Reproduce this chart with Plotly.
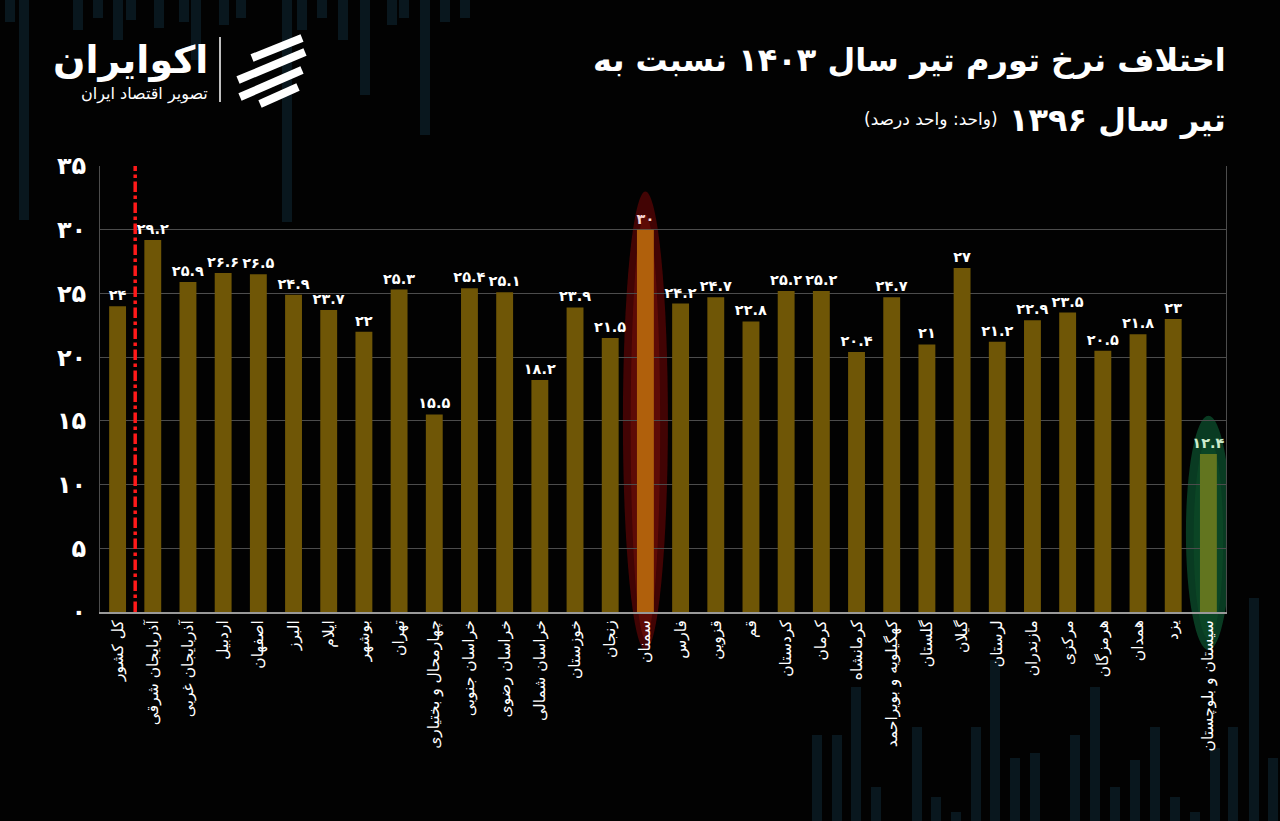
import plotly.graph_objects as go

# ---------------- data ----------------
provinces = [
    "کل کشور", "آذربایجان شرقی", "آذربایجان غربی", "اردبیل", "اصفهان", "البرز",
    "ایلام", "بوشهر", "تهران", "چهارمحال و بختیاری", "خراسان جنوبی", "خراسان رضوی",
    "خراسان شمالی", "خوزستان", "زنجان", "سمنان", "فارس", "قزوین", "قم", "کردستان",
    "کرمان", "کرمانشاه", "کهگیلویه و بویراحمد", "گلستان", "گیلان", "لرستان",
    "مازندران", "مرکزی", "هرمزگان", "همدان", "یزد", "سیستان و بلوچستان",
]
inflation_diff = [
    24, 29.2, 25.9, 26.6, 26.5, 24.9,
    23.7, 22, 25.3, 15.5, 25.4, 25.1,
    18.2, 23.9, 21.5, 30, 24.2, 24.7, 22.8, 25.2,
    25.2, 20.4, 24.7, 21, 27, 21.2,
    22.9, 23.5, 20.5, 21.8, 23, 12.4,
]
y_ticks = [0, 5, 10, 15, 20, 25, 30, 35]
max_province = "سمنان"
min_province = "سیستان و بلوچستان"
national = "کل کشور"

title_line1 = "اختلاف نرخ تورم تیر سال ۱۴۰۳ نسبت به"
title_line2 = "تیر سال ۱۳۹۶"
unit_text = "(واحد: واحد درصد)"
brand = "اکوایران"
brand_sub = "تصویر اقتصاد ایران"

# ---------------- helpers ----------------
FA = str.maketrans("0123456789", "۰۱۲۳۴۵۶۷۸۹")


def fa_num(v):
    s = str(int(v)) if float(v).is_integer() else f"{v:g}"
    return s.translate(FA)


W, H = 1280, 821
ML, MR, MT, MB = 100, 54, 166, 209
PW, PH = W - ML - MR, H - MT - MB


def px(x):
    return (x - ML) / PW


def py(y):
    return (H - MB - y) / PH


FONT = "DejaVu Sans"
BG = "#020202"
BAR = "#6f5606"
HI = "#b0600c"
LO = "#62751f"

colors = []
text_colors = []
for p in provinces:
    if p == max_province:
        colors.append(HI)
        text_colors.append("#f6d6d6")
    elif p == min_province:
        colors.append(LO)
        text_colors.append("#cdeccd")
    else:
        colors.append(BAR)
        text_colors.append("#ffffff")

labels = [fa_num(v) for v in inflation_diff]

fig = go.Figure()
fig.add_trace(go.Bar(
    x=provinces, y=inflation_diff, width=0.48,
    marker=dict(color=colors, line=dict(width=0)),
    text=labels, textposition="outside", constraintext="none",
    textfont=dict(family=FONT, size=14.5, color=text_colors, weight="bold"),
    cliponaxis=False, hoverinfo="x+y",
))

shapes = []

# decorative background strips (px coordinates of the background artwork)
deco_top = [(10, 0, 22), (24, 0, 220), (78, 0, 30), (98, 0, 18), (118, 0, 40), (131, 0, 20),
            (159, 0, 28), (184, 0, 22), (196, 0, 60), (224, 0, 25), (241, 0, 18),
            (287, 0, 222), (302, 0, 30), (322, 0, 18), (343, 0, 40), (365, 0, 95),
            (392, 0, 25), (404, 0, 18), (425, 0, 135), (445, 0, 22), (465, 0, 18)]
deco_bot = [(817, 735, 821), (837, 735, 821), (856, 687, 821), (876, 787, 821),
            (917, 727, 821), (936, 797, 821), (956, 812, 821), (976, 727, 821),
            (995, 660, 821), (1015, 758, 821), (1035, 753, 821), (1075, 735, 821),
            (1095, 687, 821), (1115, 787, 821), (1135, 760, 821), (1155, 727, 821),
            (1175, 797, 821), (1195, 812, 821), (1215, 748, 821), (1233, 727, 821),
            (1254, 598, 821), (1273, 758, 821)]
for (cx, y0, y1) in deco_top + deco_bot:
    shapes.append(dict(type="rect", xref="paper", yref="paper", layer="below",
                       x0=px(cx - 5), x1=px(cx + 5), y0=py(y1), y1=py(y0),
                       fillcolor="#09171e", line=dict(width=0)))

# glow ellipses around max and min provinces
i_max = provinces.index(max_province)
i_min = provinces.index(min_province)
v_max = inflation_diff[i_max]
v_min = inflation_diff[i_min]
ymax = y_ticks[-1]
for (i, v, outer, inner) in [(i_max, v_max, "rgba(70,4,4,0.95)", "rgba(120,18,8,0.5)"),
                             (i_min, v_min, "rgba(10,62,36,0.95)", "rgba(14,80,40,0.5)")]:
    shapes.append(dict(type="circle", xref="x", yref="paper", layer="below",
                       x0=i - 0.64, x1=i + 0.64, y0=-0.085, y1=(v + 3) / ymax,
                       fillcolor=outer, line=dict(width=0)))
    shapes.append(dict(type="circle", xref="x", yref="paper", layer="below",
                       x0=i - 0.42, x1=i + 0.42, y0=-0.06, y1=(v + 1.2) / ymax,
                       fillcolor=inner, line=dict(width=0)))

# national-average separator (dash-dot red line)
i_nat = provinces.index(national)
shapes.append(dict(type="line", xref="x", yref="y", layer="above",
                   x0=i_nat + 0.5, x1=i_nat + 0.5, y0=0, y1=ymax,
                   line=dict(color="#ff1a1a", width=3.5, dash="dashdot")))

# logo separator and icon
shapes.append(dict(type="line", xref="paper", yref="paper",
                   x0=px(220), x1=px(220), y0=py(102), y1=py(37),
                   line=dict(color="#ffffff", width=1.5)))
for (x0, y0, x1, y1) in [(252, 58, 302, 38), (238, 80, 305, 52), (240, 97, 302, 70), (260, 104, 298, 87)]:
    shapes.append(dict(type="line", xref="paper", yref="paper",
                       x0=px(x0), y0=py(y0), x1=px(x1), y1=py(y1),
                       line=dict(color="#ffffff", width=8)))

annotations = [
    dict(text=title_line1, xref="paper", yref="paper", x=px(1228), y=py(60),
         xanchor="right", yanchor="middle", showarrow=False,
         font=dict(family=FONT, size=32, color="#ffffff", weight="bold")),
    dict(text=title_line2, xref="paper", yref="paper", x=px(1228), y=py(120),
         xanchor="right", yanchor="middle", showarrow=False,
         font=dict(family=FONT, size=32, color="#ffffff", weight="bold")),
    dict(text=unit_text, xref="paper", yref="paper", x=px(1000), y=py(119),
         xanchor="right", yanchor="middle", showarrow=False,
         font=dict(family=FONT, size=17, color="#ffffff")),
    dict(text=brand, xref="paper", yref="paper", x=px(210), y=py(60),
         xanchor="right", yanchor="middle", showarrow=False,
         font=dict(family=FONT, size=38, color="#ffffff", weight="bold")),
    dict(text=brand_sub, xref="paper", yref="paper", x=px(210), y=py(94),
         xanchor="right", yanchor="middle", showarrow=False,
         font=dict(family=FONT, size=16, color="#ffffff")),
]

fig.update_layout(
    width=W, height=H,
    paper_bgcolor=BG, plot_bgcolor="rgba(0,0,0,0)",
    margin=dict(l=ML, r=MR, t=MT, b=MB, autoexpand=False),
    showlegend=False,
    shapes=shapes, annotations=annotations,
    font=dict(family=FONT, color="#ffffff"),
    xaxis=dict(
        type="category", tickangle=-90, showgrid=False,
        tickfont=dict(family=FONT, size=15.5, color="#ffffff"),
        showline=True, linecolor="#9a9a9a", linewidth=2, ticks="",
        range=[-0.5, len(provinces) - 0.5],
    ),
    yaxis=dict(
        range=[0, ymax], tickvals=y_ticks, ticktext=[fa_num(t) for t in y_ticks],
        tickfont=dict(family=FONT, size=24, color="#ffffff", weight="bold"),
        showgrid=True, gridcolor="#4c4c4c", gridwidth=1,
        showline=True, linecolor="#4c4c4c", linewidth=1, mirror=True,
        zeroline=False, ticks="", ticklabelstandoff=8,
    ),
)

fig.write_html(
    "out.html",
    config={"displayModeBar": False},
    post_script="document.body.style.margin='0';document.body.style.background='%s';"
                "document.body.style.overflow='hidden';" % BG,
)
